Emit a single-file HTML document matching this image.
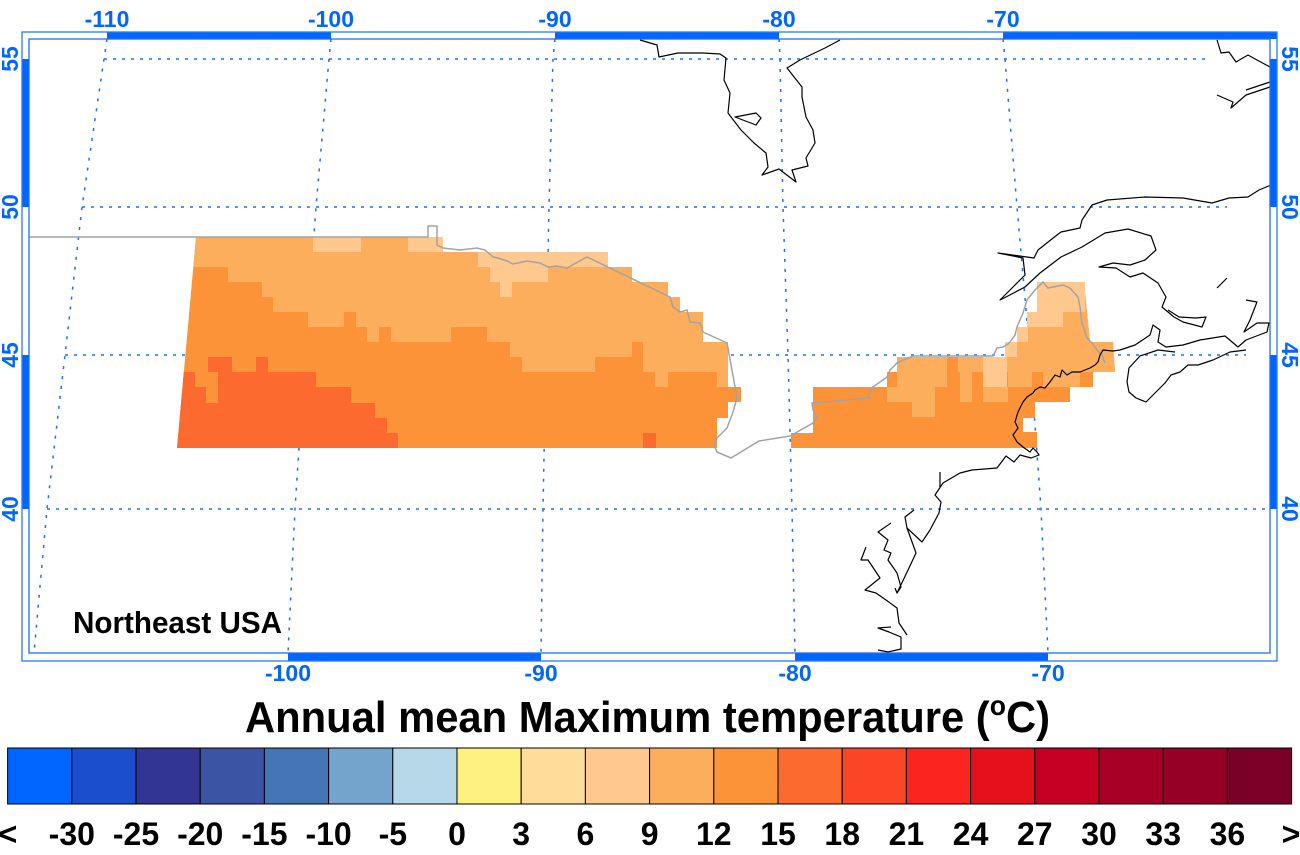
<!DOCTYPE html>
<html>
<head>
<meta charset="utf-8">
<style>
html,body{margin:0;padding:0;background:#fff;}
svg{display:block;}
</style>
</head>
<body>
<svg width="1300" height="855" viewBox="0 0 1300 855" xmlns="http://www.w3.org/2000/svg">
<rect x="0" y="0" width="1300" height="855" fill="#ffffff"/>

<!-- grid -->
<g fill="none" stroke="#1a6dff" stroke-width="1.5">
  <g stroke-dasharray="3 6">
    <line x1="104" y1="59" x2="1208" y2="59"/>
    <line x1="82" y1="207" x2="1227" y2="207"/>
    <line x1="65" y1="355" x2="1246" y2="355"/>
    <line x1="47" y1="509" x2="1266" y2="509"/>
  </g>
  <g stroke-dasharray="3 7">
    <polyline points="107,39 104,59 82,207 65,355 47,509 34,653"/>
    <polyline points="331,39 329,59 316,207 305,355 295,509 288,653"/>
    <polyline points="555,39 553,59 549,207 546,355 543,509 541,653"/>
    <polyline points="779,39 780,59 783,207 788,355 792,509 795,653"/>
    <polyline points="1003,39 1005,59 1017,207 1030,355 1041,509 1048,653"/>
  </g>
</g>

<!-- west data region -->
<g stroke="none">
  <polygon fill="#fd9339" points="196,237 443,237 443,252 608,252 608,267 632,267 632,282 668,282 668,297 680,297 680,312 703,312 703,342 728,342 728,387 741,387 741,402 728,402 728,418 717,418 717,448 177,448"/>
  <polygon fill="#fdae5c" points="196,237 443,237 443,252 608,252 608,267 632,267 632,282 668,282 668,297 680,297 680,312 703,312 703,342 728,342 728,387 717,387 717,372 668,372 668,387 655,387 655,372 643,372 643,342 632,342 632,357 595,357 595,372 522,372 522,357 510,357 510,342 487,342 487,327 451,327 451,342 391,342 391,327 379,327 379,342 367,342 367,327 356,327 356,312 344,312 344,327 308,327 308,312 273,312 273,297 262,297 262,282 228,282 228,267 193.3,267"/>
  <rect fill="#fec88f" x="313" y="237" width="48" height="15"/>
  <rect fill="#fec88f" x="408" y="237" width="35" height="15"/>
  <rect fill="#fec88f" x="478" y="252" width="130" height="15"/>
  <rect fill="#fec88f" x="490" y="267" width="58" height="15"/>
  <rect fill="#fec88f" x="500" y="282" width="12" height="15"/>
  <polygon fill="#fd6a2f" points="183.8,372 195,372 195,387 206,387 206,403 218,403 218,372 256,372 256,357 268,357 268,372 316,372 316,387 351,387 351,403 375,403 375,418 387,418 387,433 398,433 398,448 177,448"/>
  <rect fill="#fd6a2f" x="208" y="357" width="24" height="15"/>
  <rect fill="#fd6a2f" x="643" y="433" width="13" height="15"/>
</g>

<!-- east data region -->
<g stroke="none">
  <polygon fill="#fd9339" points="1037,282 1084,282 1090,342 1113,342 1115,372 1093,372 1093,387 1070,387 1070,402 1035,402 1035,418 1023,418 1023,432 1037,432 1037,448 791,448 791,433 813,433 813,387 887,387 887,372 897,372 897,357 1005,357 1005,342 1017,342 1017,327 1027,327 1027,312 1037,312"/>
  <polygon fill="#fdae5c" points="1037,282 1084,282 1090,342 1113,342 1115,372 1005,372 1005,357 1005,342 1017,342 1017,327 1027,327 1027,312 1037,312"/>
  <rect fill="#fdae5c" x="897" y="357" width="50" height="30"/>
  <rect fill="#fdae5c" x="887" y="387" width="48" height="15"/>
  <rect fill="#fdae5c" x="912" y="402" width="23" height="15"/>
  <rect fill="#fdae5c" x="958" y="357" width="25" height="15"/>
  <rect fill="#fdae5c" x="960" y="372" width="12" height="30"/>
  <rect fill="#fdae5c" x="983" y="387" width="25" height="15"/>
  <rect fill="#fdae5c" x="1008" y="372" width="24" height="15"/>
  <rect fill="#fdae5c" x="1043" y="372" width="37" height="15"/>
  <rect fill="#fdae5c" x="983" y="357" width="22" height="15"/>
  <rect fill="#fec88f" x="1037" y="282" width="48" height="30"/>
  <rect fill="#fec88f" x="1027" y="312" width="36" height="15"/>
  <rect fill="#fec88f" x="1017" y="327" width="11" height="15"/>
  <rect fill="#fec88f" x="1005" y="342" width="12" height="15"/>
  <rect fill="#fec88f" x="983" y="357" width="24" height="30"/>
</g>

<!-- political border (gray) -->
<polyline fill="none" stroke="#a3a3a3" stroke-width="1.5" points="29,237 428,237 428,226 437,226 437,245 443,248 460,250 477,248 485,250 493,257 498,258 507,261 513,264 527,261 540,263 548,267 557,266 567,268 587,257 670,297 673,307 680,312 687,310 690,322 700,323 703,332 727,343 728,348 737,398 733,412 727,428 717,438 714,445 717,452 731,458 759,441 790,436 813,423 817,417 813,410 812,403 868,398 873,387 887,377 890,370 897,363 913,356 993,356 997,348 1003,347 1008,344 1010,342 1015,335 1017,327 1023,313 1027,300 1035,290 1043,282 1048,288 1063,285 1070,288 1078,297 1080,307 1082,323 1087,338 1092,343 1097,350 1102,355 1105,363"/>

<!-- coastlines (black) -->
<g fill="none" stroke="#000" stroke-width="1.2" stroke-linejoin="round">
  <polyline points="640,40 657,45 659,57 678,53 703,53 720,54 726,58 724,80 730,93 728,113 741,130 754,143 766,153 768,167 762,175 779,169 796,182 792,170 808,166 806,158 815,143 813,130 806,117 802,97 802,87 787,68 800,60 825,48 840,40"/>
  <polygon points="735,117 756,113 761,118 756,125"/>
  <polyline points="1271,185 1259,190 1248,197 1229,198 1212,203 1183,198 1145,197 1107,200 1092,205 1082,220 1080,228 1061,232 1057,235 1038,250 1034,258 998,253 1023,258 1025,275 1010,290 1000,300 1006,297 1025,287 1040,273 1061,257 1082,247 1105,233 1128,229 1151,236 1156,250 1145,260 1130,265 1113,263 1099,267 1116,268 1130,277 1143,273 1158,283 1166,297 1162,307 1174,317 1183,322 1202,327 1206,317 1196,318 1179,317 1168,310"/>
  <polyline points="1217,288 1227,278"/>
  <polyline points="1246,300 1257,302 1250,320 1244,332 1257,323 1269,323 1267,332 1246,340 1238,347 1225,336 1200,340 1183,345 1166,347 1158,342 1160,330 1153,325 1150,335 1135,345 1120,350 1113,351 1103,350 1100,355 1098,362 1095,365 1090,368 1080,372 1072,372 1067,375 1062,370 1060,377 1055,375 1050,382 1045,388 1040,387 1035,390 1033,393 1027,397 1023,402 1018,412 1015,422 1018,428 1013,435 1017,442 1023,447 1030,452 1033,448 1037,452 1039,455 1031,458 1020,455 1014,462 1006,456 997,468 972,470 960,473 943,483 935,495 941,502 939,513 930,530 922,542 907,528 916,553 909,568 897,593 895,588"/>
  <polyline points="940,472 940,487"/>
  <polyline points="907,528 905,517 914,510"/>
  <polyline points="1129,368 1127,382 1129,392 1136,398 1146,402 1155,393 1165,383 1171,375 1180,372 1188,365 1198,365 1213,360 1230,352 1246,350"/>
  <polyline points="1129,368 1140,356 1158,350 1175,352"/>
  <polyline points="1217,40 1221,53 1229,52 1236,62 1248,55 1257,60 1270,67"/>
  <polyline points="1217,95 1233,102 1231,108 1246,95 1270,87"/>
  <polyline points="1246,90 1270,82"/>
  <polyline points="891,523 878,532 888,540 884,550 891,553 888,560 897,573 901,587 897,593"/>
  <polyline points="866,547 861,560 868,560 880,578 865,590 876,593 886,600 897,608 899,623 907,635"/>
  <polyline points="891,627 878,628 889,632 901,637 901,649 888,652 878,650"/>
</g>

<!-- frame -->
<g fill="#0066ff" stroke="none">
  <rect x="107" y="32" width="224" height="7"/>
  <rect x="555" y="32" width="224" height="7"/>
  <rect x="1003" y="32" width="274" height="7"/>
  <rect x="22" y="59" width="7" height="148"/>
  <rect x="22" y="355" width="7" height="154"/>
  <rect x="1270" y="59" width="7" height="148"/>
  <rect x="1270" y="355" width="7" height="154"/>
  <rect x="288" y="653" width="253" height="8"/>
  <rect x="795" y="653" width="253" height="8"/>
</g>
<rect x="22" y="32" width="1255" height="629" fill="none" stroke="#2a78ff" stroke-width="1.3"/>
<rect x="29" y="39" width="1241" height="614" fill="none" stroke="#1a6dff" stroke-width="1.3"/>

<!-- axis labels -->
<g font-family="'Liberation Sans', Arial, sans-serif" font-weight="bold" font-size="23" fill="#0066ff" text-anchor="middle">
  <text x="107" y="27">-110</text>
  <text x="331" y="27">-100</text>
  <text x="555" y="27">-90</text>
  <text x="779" y="27">-80</text>
  <text x="1003" y="27">-70</text>
  <text x="288" y="681">-100</text>
  <text x="541" y="681">-90</text>
  <text x="795" y="681">-80</text>
  <text x="1048" y="681">-70</text>
  <text x="18" y="59" transform="rotate(-90 18 59)">55</text>
  <text x="18" y="207" transform="rotate(-90 18 207)">50</text>
  <text x="18" y="355" transform="rotate(-90 18 355)">45</text>
  <text x="18" y="509" transform="rotate(-90 18 509)">40</text>
  <text x="1282" y="59" transform="rotate(90 1282 59)">55</text>
  <text x="1282" y="207" transform="rotate(90 1282 207)">50</text>
  <text x="1282" y="355" transform="rotate(90 1282 355)">45</text>
  <text x="1282" y="509" transform="rotate(90 1282 509)">40</text>
</g>

<text x="73" y="633" font-family="'Liberation Sans', Arial, sans-serif" font-weight="bold" font-size="31" fill="#000" textLength="209" lengthAdjust="spacingAndGlyphs">Northeast USA</text>

<!-- title -->
<text x="245" y="732" font-family="'Liberation Sans', Arial, sans-serif" font-weight="bold" font-size="44" fill="#000" textLength="805" lengthAdjust="spacingAndGlyphs">Annual mean Maximum temperature (<tspan font-size="28" dy="-17">o</tspan><tspan dy="17">C)</tspan></text>

<!-- colorbar -->
<g stroke="#000" stroke-width="1">
  <rect x="7.6" y="748" width="64.2" height="56" fill="#0066ff"/>
  <rect x="71.8" y="748" width="64.2" height="56" fill="#1a4ecc"/>
  <rect x="136" y="748" width="64.2" height="56" fill="#333594"/>
  <rect x="200.2" y="748" width="64.2" height="56" fill="#3b54a3"/>
  <rect x="264.4" y="748" width="64.2" height="56" fill="#4575b4"/>
  <rect x="328.6" y="748" width="64.2" height="56" fill="#74a3cb"/>
  <rect x="392.8" y="748" width="64.2" height="56" fill="#b6d8e8"/>
  <rect x="457" y="748" width="64.2" height="56" fill="#fff17f"/>
  <rect x="521.2" y="748" width="64.2" height="56" fill="#fedd9a"/>
  <rect x="585.4" y="748" width="64.2" height="56" fill="#fec88f"/>
  <rect x="649.6" y="748" width="64.2" height="56" fill="#fdae5c"/>
  <rect x="713.8" y="748" width="64.2" height="56" fill="#fd9339"/>
  <rect x="778" y="748" width="64.2" height="56" fill="#fd6a2f"/>
  <rect x="842.2" y="748" width="64.2" height="56" fill="#fc4426"/>
  <rect x="906.4" y="748" width="64.2" height="56" fill="#fb241e"/>
  <rect x="970.6" y="748" width="64.2" height="56" fill="#e6101c"/>
  <rect x="1034.8" y="748" width="64.2" height="56" fill="#c50024"/>
  <rect x="1099" y="748" width="64.2" height="56" fill="#a70026"/>
  <rect x="1163.2" y="748" width="64.2" height="56" fill="#960026"/>
  <rect x="1227.4" y="748" width="64.2" height="56" fill="#7b0028"/>
</g>

<g font-family="'Liberation Sans', Arial, sans-serif" font-weight="bold" font-size="32" fill="#000" text-anchor="middle">
  <text x="8" y="845">&lt;</text>
  <text x="71.8" y="845">-30</text>
  <text x="136" y="845">-25</text>
  <text x="200.2" y="845">-20</text>
  <text x="264.4" y="845">-15</text>
  <text x="328.6" y="845">-10</text>
  <text x="392.8" y="845">-5</text>
  <text x="457" y="845">0</text>
  <text x="521.2" y="845">3</text>
  <text x="585.4" y="845">6</text>
  <text x="649.6" y="845">9</text>
  <text x="713.8" y="845">12</text>
  <text x="778" y="845">15</text>
  <text x="842.2" y="845">18</text>
  <text x="906.4" y="845">21</text>
  <text x="970.6" y="845">24</text>
  <text x="1034.8" y="845">27</text>
  <text x="1099" y="845">30</text>
  <text x="1163.2" y="845">33</text>
  <text x="1227.4" y="845">36</text>
  <text x="1291" y="845">&gt;</text>
</g>
</svg>
</body>
</html>
